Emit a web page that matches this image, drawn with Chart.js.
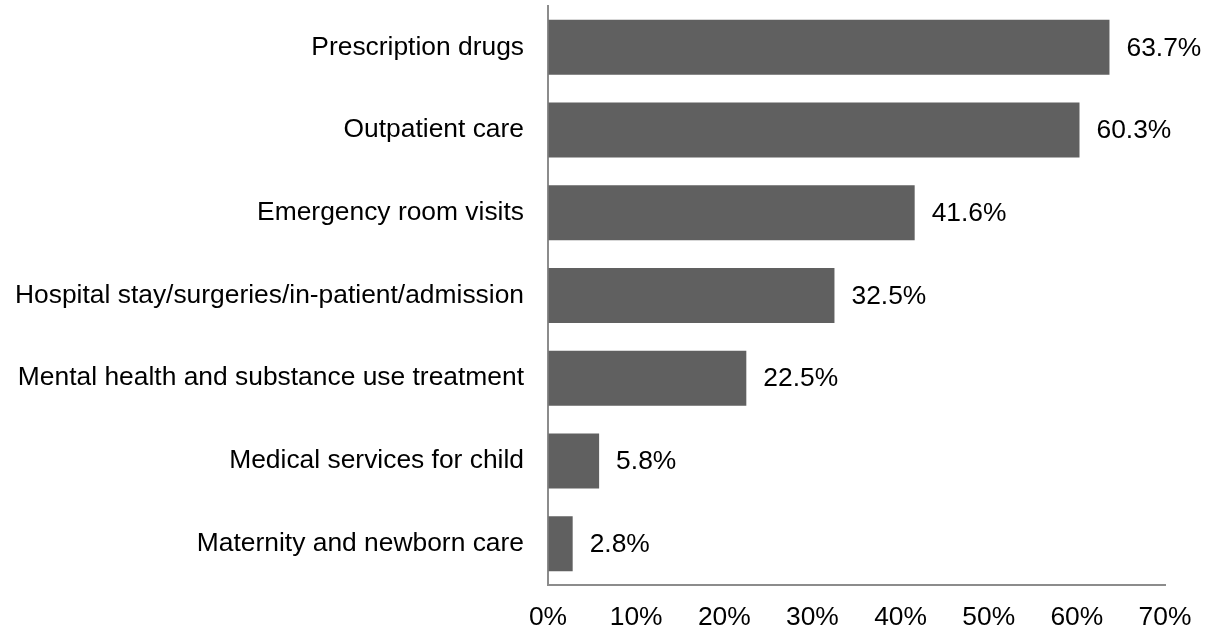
<!DOCTYPE html>
<html lang="en">
<head>
    <meta charset="UTF-8">
    <title>Chart</title>
    <style>
        html, body { margin: 0; padding: 0; background: #fff; }
        .wrap-chart { width: 1211px; height: 633px; }
    </style>
</head>
<body>
    <div class="wrap-chart">
        <canvas id="myChart"></canvas>
    </div>

    <script src="https://cdn.jsdelivr.net/npm/chart.js"></script>
    <script>
        const categories = [
            'Prescription drugs',
            'Outpatient care',
            'Emergency room visits',
            'Hospital stay/surgeries/in-patient/admission',
            'Mental health and substance use treatment',
            'Medical services for child',
            'Maternity and newborn care'
        ];
        const values = [63.7, 60.3, 41.6, 32.5, 22.5, 5.8, 2.8];
        const xTicks = [0, 10, 20, 30, 40, 50, 60, 70];

        const font = { family: 'Liberation Sans, Arial, sans-serif', size: 26.4 };

        // value labels to the right of each bar
        const valueLabels = {
            id: 'valueLabels',
            afterDatasetsDraw(chart) {
                const { ctx } = chart;
                const meta = chart.getDatasetMeta(0);
                ctx.save();
                ctx.font = font.size + 'px ' + font.family;
                ctx.fillStyle = '#000';
                ctx.textBaseline = 'middle';
                meta.data.forEach((bar, i) => {
                    ctx.fillText(values[i].toFixed(1) + '%', bar.x + 17, bar.y + 1);
                });
                ctx.restore();
            }
        };

        new Chart(document.getElementById('myChart'), {
            type: 'bar',
            data: {
                labels: categories,
                datasets: [{
                    data: values,
                    backgroundColor: '#606060',
                    barPercentage: 0.665,
                    categoryPercentage: 1
                }]
            },
            plugins: [valueLabels],
            options: {
                indexAxis: 'y',
                responsive: true,
                maintainAspectRatio: false,
                animation: false,
                layout: { padding: { top: 6, right: 46, left: 0, bottom: 0 } },
                plugins: {
                    legend: { display: false },
                    tooltip: { enabled: false }
                },
                scales: {
                    x: {
                        min: 0,
                        max: 70,
                        afterBuildTicks(scale) {
                            scale.ticks = xTicks.map(v => ({ value: v }));
                        },
                        afterFit(scale) {
                            scale.height = 48;
                            scale.paddingLeft = 0;
                            scale.paddingRight = 0;
                        },
                        grid: { drawOnChartArea: false, drawTicks: false },
                        border: { display: true, color: '#8c8c8c', width: 2 },
                        ticks: {
                            padding: 17,
                            color: '#000',
                            font: font,
                            maxRotation: 0,
                            callback: v => v + '%'
                        }
                    },
                    y: {
                        afterFit(scale) {
                            scale.width = 548;
                            scale.paddingTop = 0;
                            scale.paddingBottom = 0;
                        },
                        grid: { drawOnChartArea: false, drawTicks: false },
                        border: { display: true, color: '#8c8c8c', width: 2 },
                        ticks: {
                            padding: 24,
                            color: '#000',
                            font: font
                        }
                    }
                }
            }
        });
    </script>
</body>
</html>
